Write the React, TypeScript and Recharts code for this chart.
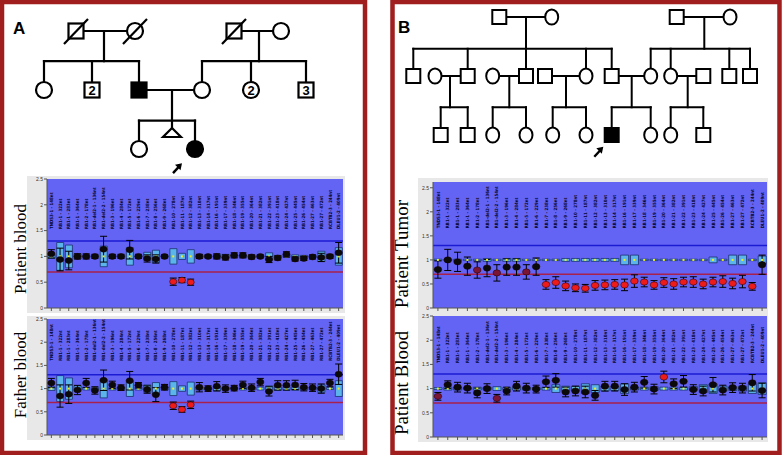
import React from 'react';
import {
  ComposedChart, ScatterChart, Scatter, Bar, XAxis, YAxis,
  CartesianGrid, ReferenceLine, ErrorBar,
} from 'recharts';

const SANS = 'Liberation Sans, Arial, sans-serif';
const NARROW = 'Liberation Sans Narrow, DejaVu Sans Condensed, Arial Narrow, sans-serif';
const SERIF = 'Liberation Serif, Times New Roman, serif';

const PROBES = [
  'TNDS3-1 - 148nt', 'RB1-1 - 322nt', 'RB1-1 - 283nt', 'RB1-1 - 364nt', 'RB1-2 - 178nt',
  'RB1-del2-1 - 136nt', 'RB1-del2-2 - 154nt', 'RB1-3 - 196nt', 'RB1-4 - 284nt', 'RB1-5 - 172nt',
  'RB1-6 - 229nt', 'RB1-7 - 238nt', 'RB1-8 - 256nt', 'RB1-9 - 268nt', 'RB1-10 - 278nt',
  'RB1-11 - 187nt', 'RB1-12 - 382nt', 'RB1-13 - 310nt', 'RB1-14 - 317nt', 'RB1-16 - 191nt',
  'RB1-17 - 339nt', 'RB1-18 - 346nt', 'RB1-19 - 355nt', 'RB1-20 - 364nt', 'RB1-21 - 382nt',
  'RB1-22 - 391nt', 'RB1-23 - 418nt', 'RB1-24 - 427nt', 'RB1-25 - 445nt', 'RB1-26 - 454nt',
  'RB1-27 - 463nt', 'RB1-27 - 472nt', 'RCBTB2-3 - 244nt', 'DLEU1-2 - 409nt',
];

const REF = 1;
const UPPER = 1.3;
const LOWER = 0.7;
const Y_TICKS = [0, 0.5, 1, 1.5, 2, 2.5];

// A - patient blood
const A1_RATIO = [1.05, 0.94, 0.92, 1.0, 1.0, 1.0, 1.14, 1.0, 1.0, 1.13, 1.0, 0.96, 0.95, 1.0, 0.51, 0.54, 0.5, 1.0, 1.0, 1.0, 0.98, 1.02, 1.02, 0.99, 1.0, 0.94, 0.97, 1.04, 0.95, 0.96, 0.99, 0.98, 1.0, 1.07];
const A1_ERR = [0.08, 0.22, 0.18, 0.05, 0.05, 0.04, 0.25, 0.04, 0.04, 0.18, 0.04, 0.07, 0.08, 0.03, 0.07, 0.05, 0.06, 0.04, 0.03, 0.05, 0.05, 0.05, 0.05, 0.04, 0.03, 0.06, 0.04, 0.05, 0.04, 0.04, 0.04, 0.08, 0.04, 0.2];
const A1_BOX = [0.04, 0.27, 0.22, 0.05, 0.03, 0.02, 0.2, 0.02, 0.02, 0.17, 0.02, 0.08, 0.12, 0.02, 0.15, 0.06, 0.13, 0.03, 0.02, 0.04, 0.04, 0.02, 0.02, 0.02, 0.02, 0.07, 0.02, 0.02, 0.03, 0.02, 0.02, 0.1, 0.02, 0.17];
const A1_LOSS = [14, 15, 16];

// A - father blood
const A2_RATIO = [1.12, 0.84, 0.88, 0.97, 1.12, 0.96, 1.18, 1.08, 1.02, 1.17, 1.07, 0.98, 0.87, 1.03, 0.63, 0.55, 0.65, 1.03, 1.0, 1.05, 1.0, 1.01, 1.08, 1.02, 1.14, 0.94, 1.07, 1.07, 1.08, 1.03, 1.02, 1.0, 1.12, 1.31];
const A2_ERR = [0.1, 0.24, 0.2, 0.1, 0.1, 0.08, 0.22, 0.08, 0.06, 0.2, 0.06, 0.08, 0.15, 0.06, 0.08, 0.06, 0.08, 0.1, 0.06, 0.1, 0.08, 0.06, 0.08, 0.08, 0.08, 0.1, 0.1, 0.1, 0.1, 0.08, 0.08, 0.1, 0.08, 0.22];
const A2_BOX = [0.04, 0.28, 0.23, 0.06, 0.03, 0.02, 0.2, 0.03, 0.03, 0.17, 0.03, 0.08, 0.13, 0.03, 0.15, 0.06, 0.14, 0.03, 0.03, 0.05, 0.03, 0.02, 0.03, 0.03, 0.03, 0.06, 0.04, 0.04, 0.04, 0.03, 0.03, 0.08, 0.02, 0.17];
const A2_LOSS = [14, 15, 16];

// B - patient tumor
const B1_RATIO = [0.8, 1.0, 0.96, 0.87, 0.79, 0.83, 0.73, 0.85, 0.85, 0.75, 0.86, 0.49, 0.53, 0.46, 0.42, 0.41, 0.47, 0.48, 0.49, 0.48, 0.56, 0.54, 0.48, 0.53, 0.5, 0.54, 0.54, 0.5, 0.54, 0.55, 0.51, 0.55, 0.45, 0.9];
const B1_ERR = [0.18, 0.22, 0.2, 0.19, 0.17, 0.18, 0.17, 0.17, 0.17, 0.15, 0.18, 0.1, 0.12, 0.1, 0.08, 0.08, 0.1, 0.1, 0.1, 0.12, 0.13, 0.1, 0.09, 0.1, 0.11, 0.1, 0.11, 0.1, 0.1, 0.12, 0.11, 0.13, 0.08, 0.2];
const B1_BOX = [0.015, 0.015, 0.015, 0.015, 0.015, 0.03, 0.015, 0.03, 0.03, 0.015, 0.015, 0.015, 0.015, 0.03, 0.03, 0.03, 0.03, 0.03, 0.03, 0.1, 0.1, 0.015, 0.015, 0.015, 0.015, 0.015, 0.015, 0.015, 0.06, 0.015, 0.1, 0.1, 0.015, 0.08];
const B1_LOSS = [11, 12, 13, 14, 15, 16, 17, 18, 19, 20, 21, 22, 23, 24, 25, 26, 27, 28, 29, 30, 31, 32];
const B1_BORDER = [4, 6, 9];

// B - patient blood
const B2_RATIO = [0.84, 1.08, 1.03, 1.01, 0.91, 1.0, 0.8, 0.95, 1.05, 1.01, 0.99, 1.14, 1.17, 0.93, 0.95, 0.93, 0.86, 1.05, 1.05, 0.98, 1.03, 1.13, 0.99, 1.24, 1.1, 1.15, 0.98, 0.95, 1.08, 0.97, 1.02, 1.01, 1.12, 0.96];
const B2_ERR = [0.08, 0.08, 0.1, 0.1, 0.1, 0.1, 0.08, 0.08, 0.1, 0.1, 0.08, 0.12, 0.14, 0.1, 0.1, 0.12, 0.1, 0.1, 0.1, 0.12, 0.1, 0.12, 0.1, 0.12, 0.1, 0.12, 0.1, 0.1, 0.15, 0.1, 0.1, 0.1, 0.17, 0.15];
const B2_BOX = [0.02, 0.03, 0.03, 0.02, 0.03, 0.03, 0.04, 0.02, 0.03, 0.03, 0.02, 0.03, 0.08, 0.05, 0.05, 0.1, 0.08, 0.05, 0.04, 0.1, 0.03, 0.03, 0.04, 0.03, 0.03, 0.03, 0.04, 0.08, 0.1, 0.05, 0.04, 0.05, 0.1, 0.12];
const B2_GAIN = [23];
const B2_BORDER = [0, 6];

// pedigrees: x in layout units, y in generations
const PED_A = [
  { x: 7.6, y: 1, sex: 'M', dead: true }, { x: 13.5, y: 1, sex: 'F', dead: true },
  { x: 23.4, y: 1, sex: 'M', dead: true }, { x: 28.1, y: 1, sex: 'F' },
  { x: 4.4, y: 2, sex: 'F' }, { x: 9.2, y: 2, sex: 'M', n: '2' }, { x: 13.9, y: 2, sex: 'M', affected: true },
  { x: 20.2, y: 2, sex: 'F' }, { x: 25.1, y: 2, sex: 'F', n: '2' }, { x: 30.6, y: 2, sex: 'M', n: '3' },
  { x: 13.9, y: 3, sex: 'F' }, { x: 17.2, y: 2.72, sex: 'loss' }, { x: 19.5, y: 3, sex: 'F', affected: true },
];
const PED_A_LINES = [
  [7.6, 1, 13.5, 1], [10.4, 1, 10.4, 1.51], [4.4, 1.51, 13.9, 1.51],
  [4.4, 1.51, 4.4, 2], [9.2, 1.51, 9.2, 2], [13.9, 1.51, 13.9, 2],
  [23.4, 1, 28.1, 1], [25.9, 1, 25.9, 1.51], [20.2, 1.51, 30.6, 1.51],
  [20.2, 1.51, 20.2, 2], [25.1, 1.51, 25.1, 2], [30.6, 1.51, 30.6, 2],
  [13.9, 2, 20.2, 2], [17.2, 2, 17.2, 2.64], [13.9, 2.52, 19.5, 2.52],
  [13.9, 2.52, 13.9, 3], [19.5, 2.52, 19.5, 3],
];
const PROBAND_A = [{ x: 18.2, y: 3.24 }];

const PED_B = [
  { x: 10.93, y: 1, sex: 'M' }, { x: 16.17, y: 1, sex: 'F' }, { x: 28.67, y: 1, sex: 'M' }, { x: 34.0, y: 1, sex: 'F' },
  { x: 2.33, y: 2, sex: 'M' }, { x: 4.5, y: 2, sex: 'F' }, { x: 7.77, y: 2, sex: 'M' }, { x: 10.27, y: 2, sex: 'F' },
  { x: 13.6, y: 2, sex: 'M' }, { x: 15.5, y: 2, sex: 'M' }, { x: 19.6, y: 2, sex: 'F' }, { x: 22.17, y: 2, sex: 'M' },
  { x: 26.07, y: 2, sex: 'F' }, { x: 28.07, y: 2, sex: 'F' }, { x: 31.33, y: 2, sex: 'M' }, { x: 33.93, y: 2, sex: 'M' },
  { x: 36.0, y: 2, sex: 'M' },
  { x: 5.07, y: 3, sex: 'M' }, { x: 7.77, y: 3, sex: 'M' }, { x: 10.27, y: 3, sex: 'F' }, { x: 13.6, y: 3, sex: 'F' },
  { x: 16.27, y: 3, sex: 'F' }, { x: 19.6, y: 3, sex: 'F' }, { x: 22.17, y: 3, sex: 'M', affected: true },
  { x: 26.07, y: 3, sex: 'F' }, { x: 28.07, y: 3, sex: 'F' }, { x: 31.33, y: 3, sex: 'M' },
];
const PED_B_LINES = [
  [10.93, 1, 16.17, 1], [13.6, 1, 13.6, 1.54], [2.33, 1.54, 22.17, 1.54],
  [2.33, 1.54, 2.33, 2], [7.77, 1.54, 7.77, 2], [13.6, 1.54, 13.6, 2], [19.6, 1.54, 19.6, 2], [22.17, 1.54, 22.17, 2],
  [28.67, 1, 34.0, 1], [31.43, 1, 31.43, 1.54], [26.07, 1.54, 36.0, 1.54],
  [26.07, 1.54, 26.07, 2], [28.07, 1.54, 28.07, 2], [33.93, 1.54, 33.93, 2], [36.0, 1.54, 36.0, 2],
  [4.5, 2, 7.77, 2], [6.0, 2, 6.0, 2.53], [5.07, 2.53, 7.77, 2.53], [5.07, 2.53, 5.07, 3], [7.77, 2.53, 7.77, 3],
  [10.27, 2, 13.6, 2], [11.93, 2, 11.93, 2.53], [10.27, 2.53, 13.6, 2.53], [10.27, 2.53, 10.27, 3], [13.6, 2.53, 13.6, 3],
  [15.5, 2, 19.6, 2], [17.6, 2, 17.6, 2.53], [16.27, 2.53, 19.6, 2.53], [16.27, 2.53, 16.27, 3], [19.6, 2.53, 19.6, 3],
  [22.17, 2, 26.07, 2], [24.17, 2, 24.17, 2.53], [22.17, 2.53, 26.07, 2.53], [22.17, 2.53, 22.17, 3], [26.07, 2.53, 26.07, 3],
  [28.07, 2, 31.33, 2], [29.77, 2, 29.77, 2.53], [28.07, 2.53, 31.33, 2.53], [28.07, 2.53, 28.07, 3], [31.33, 2.53, 31.33, 3],
];
const PROBAND_B = [{ x: 21.33, y: 3.2 }];

const DOT_FILL: Record<string, string> = { normal: '#0a0a0a', loss: '#ee1b1b', border: '#7a1535' };

const buildRows = (ratio: number[], err: number[], box: number[], red: number[], border: number[], labelAt: number) =>
  PROBES.map((probe, i) => ({
    probe,
    ratio: ratio[i],
    err: err[i],
    box: [REF - box[i], REF + box[i]],
    median: REF,
    labelAt,
    tone: red.includes(i) ? 'loss' : border.includes(i) ? 'border' : 'normal',
  }));

const ProbeLabel = (props: any) => {
  const { cx, cy, payload } = props;
  if (cx == null || cy == null) return <g />;
  return (
    <text x={cx} y={cy} dy={1.6} transform={`rotate(-90 ${cx} ${cy})`} fontSize={4.4} fontWeight="bold" fontFamily={NARROW} fill="#06062e">
      {payload.probe}
    </text>
  );
};

const MedianMark = (props: any) => {
  const { cx, cy } = props;
  if (cx == null || cy == null) return <g />;
  return <rect x={cx - 1} y={cy - 1} width={2} height={2} fill="#eeee22" />;
};

const dotShape = (rx: number, ry: number) => (props: any) => {
  const { cx, cy, payload } = props;
  if (cx == null || cy == null) return <g />;
  return <ellipse cx={cx} cy={cy} rx={rx} ry={ry} fill={DOT_FILL[payload.tone]} stroke="#1a0000" strokeWidth={0.5} />;
};

const MlpaChart = ({ rows, cfg }: any) => (
  <div style={{ position: 'absolute', left: cfg.left, top: cfg.top, width: cfg.width, height: cfg.height, background: '#e8e8e8' }}>
    <ComposedChart width={cfg.width} height={cfg.height} data={rows} margin={cfg.margin}>
      <CartesianGrid fill="#6464f4" fillOpacity={1} stroke="none" horizontal={false} vertical={false} />
      <XAxis dataKey="probe" interval={0} height={cfg.xHeight} tickSize={3} tick={() => <g />} stroke="#555" />
      <YAxis
        domain={[0, cfg.yMax]} ticks={Y_TICKS} allowDataOverflow interval={0} width={cfg.yWidth}
        tickSize={3} tickMargin={1} stroke="#555"
        tick={{ fontSize: 5, fill: '#333', fontFamily: SANS }}
      />
      <ReferenceLine y={UPPER} stroke="#1b1bd4" strokeWidth={1.5} />
      <ReferenceLine y={LOWER} stroke="#a8204c" strokeWidth={1.5} />
      <Bar dataKey="box" barSize={cfg.barSize} fill="#5bb4ea" stroke="#1d2f6e" strokeWidth={0.8} isAnimationActive={false} />
      <Scatter dataKey="labelAt" shape={ProbeLabel} isAnimationActive={false} />
      <Scatter dataKey="median" shape={MedianMark} isAnimationActive={false} />
      <Scatter dataKey="ratio" shape={dotShape(cfg.rx, cfg.ry)} isAnimationActive={false}>
        <ErrorBar dataKey="err" direction="y" width={3.5} stroke="#000" strokeWidth={1} />
      </Scatter>
    </ComposedChart>
  </div>
);

const personShape = (sq: number, rx: number, ry: number, sw: number) => (props: any) => {
  const { cx, cy, payload } = props;
  if (cx == null || cy == null) return <g />;
  const fill = payload.affected ? '#000' : '#fff';
  const h = sq / 2;
  return (
    <g>
      {payload.sex === 'M' && <rect x={cx - h} y={cy - h} width={sq} height={sq} fill={fill} stroke="#000" strokeWidth={sw} />}
      {payload.sex === 'F' && <ellipse cx={cx} cy={cy} rx={rx} ry={ry} fill={fill} stroke="#000" strokeWidth={sw} />}
      {payload.sex === 'loss' && (
        <polygon points={`${cx},${cy - 4.5} ${cx - 9},${cy + 4.5} ${cx + 9},${cy + 4.5}`} fill="#fff" stroke="#000" strokeWidth={sw} />
      )}
      {payload.n && (
        <text x={cx} y={cy + 4.5} textAnchor="middle" fontSize={13} fontWeight="bold" fontFamily={SANS}>{payload.n}</text>
      )}
      {payload.dead && <line x1={cx - 12} y1={cy + 13} x2={cx + 12} y2={cy - 12} stroke="#000" strokeWidth={sw} />}
    </g>
  );
};

const ArrowMark = (props: any) => {
  const { cx, cy } = props;
  if (cx == null || cy == null) return <g />;
  return (
    <g>
      <line x1={cx - 9} y1={cy + 10} x2={cx - 3} y2={cy + 3.5} stroke="#000" strokeWidth={2.4} />
      <polygon points={`${cx},${cy} ${cx - 7},${cy + 1.5} ${cx - 1.5},${cy + 7}`} fill="#000" />
    </g>
  );
};

const PedigreeChart = ({ cfg, people, lines, proband }: any) => (
  <div style={{ position: 'absolute', left: cfg.left, top: cfg.top }}>
    <ScatterChart width={cfg.width} height={cfg.height} margin={cfg.margin}>
      <XAxis type="number" dataKey="x" domain={cfg.xDomain} allowDataOverflow hide />
      <YAxis type="number" dataKey="y" domain={cfg.yDomain} allowDataOverflow reversed hide />
      {lines.map((s: number[], i: number) => (
        <Scatter
          key={i}
          data={[{ x: s[0], y: s[1] }, { x: s[2], y: s[3] }]}
          line={{ stroke: '#000', strokeWidth: cfg.sw, strokeLinecap: 'square' }}
          shape={() => <g />}
          isAnimationActive={false}
        />
      ))}
      <Scatter data={people} shape={personShape(cfg.sq, cfg.rx, cfg.ry, cfg.sw)} isAnimationActive={false} />
      <Scatter data={proband} shape={ArrowMark} isAnimationActive={false} />
    </ScatterChart>
  </div>
);

const A1 = buildRows(A1_RATIO, A1_ERR, A1_BOX, A1_LOSS, [], 1.53);
const A2 = buildRows(A2_RATIO, A2_ERR, A2_BOX, A2_LOSS, [], 1.6);
const B1 = buildRows(B1_RATIO, B1_ERR, B1_BOX, B1_LOSS, B1_BORDER, 1.66);
const B2 = buildRows(B2_RATIO, B2_ERR, B2_BOX, B2_GAIN, B2_BORDER, 1.53);

const chartA = { width: 318, xHeight: 5, yWidth: 16, barSize: 7, rx: 3.6, ry: 3, yMax: 2.5 };
const chartB = { width: 350, xHeight: 5, yWidth: 13, barSize: 8, rx: 3.8, ry: 3.1, yMax: 2.5 };

const SideLabel = ({ x, y, size, text }: any) => (
  <text x={x} y={y} transform={`rotate(-90 ${x} ${y})`} textAnchor="middle" dominantBaseline="central" fontSize={size} fontFamily={SERIF} fill="#000">
    {text}
  </text>
);

export default function App() {
  return (
    <div style={{ position: 'absolute', left: 0, top: 0, width: 782, height: 455, background: '#fff', overflow: 'hidden' }}>
      <svg width={782} height={455} style={{ position: 'absolute', left: 0, top: 0 }}>
        <rect x={2} y={2} width={363} height={451} fill="#fff" stroke="#a01e1e" strokeWidth={4.5} />
        <rect x={392.5} y={2} width={387} height={451} fill="#fff" stroke="#a01e1e" strokeWidth={4.5} />
        <text x={13} y={34} fontSize={17} fontWeight="bold" fontFamily={SANS}>A</text>
        <text x={398} y={33} fontSize={17} fontWeight="bold" fontFamily={SANS}>B</text>
        <SideLabel x={20} y={249} size={17} text="Patient blood" />
        <SideLabel x={20} y={375} size={17} text="Father blood" />
        <SideLabel x={401} y={254} size={19} text="Patient Tumor" />
        <SideLabel x={401} y={383} size={19} text="Patient Blood" />
      </svg>
      <PedigreeChart
        cfg={{ left: 0, top: 0, width: 367, height: 180, margin: { top: 1.5, right: 0, bottom: 1.5, left: 0 }, xDomain: [0, 36.7], yDomain: [0.5, 3.5], sq: 15, rx: 8, ry: 8, sw: 2.2 }}
        people={PED_A} lines={PED_A_LINES} proband={PROBAND_A}
      />
      <PedigreeChart
        cfg={{ left: 390, top: 0, width: 392, height: 170, margin: { top: 2.25, right: 0, bottom: 5.5, left: 0 }, xDomain: [0, 39.2], yDomain: [0.75, 3.5], sq: 14, rx: 6.5, ry: 7.5, sw: 2 }}
        people={PED_B} lines={PED_B_LINES} proband={PROBAND_B}
      />
      <MlpaChart rows={A1} cfg={{ ...chartA, left: 27, top: 176, height: 137, margin: { top: 3, right: 2, bottom: 0, left: 4 } }} />
      <MlpaChart rows={A2} cfg={{ ...chartA, left: 27, top: 316, height: 124, margin: { top: 3, right: 2, bottom: 0, left: 4 } }} />
      <MlpaChart rows={B1} cfg={{ ...chartB, left: 418, top: 178, height: 135, yMax: 2.62, margin: { top: 4, right: 1, bottom: 0, left: 2 } }} />
      <MlpaChart rows={B2} cfg={{ ...chartB, left: 418, top: 313, height: 129, margin: { top: 3, right: 1, bottom: 0, left: 2 } }} />
    </div>
  );
}
